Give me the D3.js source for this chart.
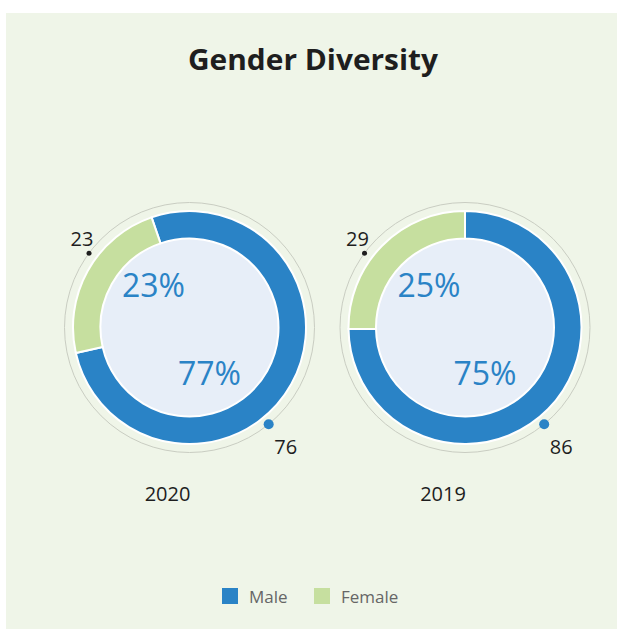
<!DOCTYPE html>
<html>
<head>
<meta charset="utf-8">
<script src="https://cdn.jsdelivr.net/npm/d3@7"></script>
<style>
  body { margin: 0; background: #fff; }
  svg { display: block; font-family: "Open Sans", "Noto Sans", sans-serif; }
</style>
</head>
<body>
<div id="chart-area"></div>
<script>
// DATA
const years = ["2020", "2019"]
const genders = ["Male", "Female"]
const maleCounts = [76, 86]
const femaleCounts = [23, 29]
const startAngles = [-19, 0] // degrees, where the male arc begins

const width = 617
const height = 637

const colors = d3.scaleOrdinal()
  .domain(genders)
  .range(["#2a83c6", "#c6df9f"])

const svg = d3.select("#chart-area")
  .append("svg")
    .attr("width", width)
    .attr("height", height)

// panel
svg.append("rect")
  .attr("x", 6)
  .attr("y", 13)
  .attr("width", width - 6)
  .attr("height", 616)
  .attr("fill", "#eff5e8")

// title
svg.append("text")
  .attr("x", 313)
  .attr("y", 70)
  .attr("text-anchor", "middle")
  .attr("font-size", "29px")
  .attr("font-weight", "bold")
  .attr("fill", "#1e1e1e")
  .attr("textLength", 250)
  .attr("lengthAdjust", "spacingAndGlyphs")
  .text("Gender Diversity")

// donut centres
const xScale = d3.scalePoint()
  .domain(years)
  .range([189.5, 465])
const cy = 327.5

const outerR = 116.5
const innerR = 89
const ringR = 125

const pie = d3.pie().sort(null).value(d => d.value)
const arc = d3.arc().innerRadius(innerR).outerRadius(outerR)

const rad = deg => deg * Math.PI / 180
const onRing = deg => [ringR * Math.sin(rad(deg)), -ringR * Math.cos(rad(deg))]

years.forEach((year, i) => {
  const values = [
    { key: "Male", value: maleCounts[i] },
    { key: "Female", value: femaleCounts[i] }
  ]
  const total = d3.sum(values, d => d.value)

  const g = svg.append("g")
    .attr("transform", "translate(" + xScale(year) + ", " + cy + ")")

  // thin outer ring
  g.append("circle")
    .attr("r", ringR)
    .attr("fill", "none")
    .attr("stroke", "#c9cdc2")
    .attr("stroke-width", 1)

  // inner disc
  g.append("circle")
    .attr("r", innerR)
    .attr("fill", "#e7eef8")

  pie.startAngle(rad(startAngles[i])).endAngle(rad(startAngles[i] + 360))

  g.selectAll("path.slice")
    .data(pie(values))
    .enter()
    .append("path")
      .attr("class", "slice")
      .attr("d", arc)
      .attr("fill", d => colors(d.data.key))
      .attr("stroke", "#fff")
      .attr("stroke-width", 2)

  // percentages
  const pct = d => Math.round(d.value / total * 100) + "%"
  g.append("text")
    .attr("x", -36)
    .attr("y", -31)
    .attr("text-anchor", "middle")
    .attr("font-size", "32px")
    .attr("fill", "#2a83c6")
    .text(pct(values[1]))
  g.append("text")
    .attr("x", 20)
    .attr("y", 57)
    .attr("text-anchor", "middle")
    .attr("font-size", "32px")
    .attr("fill", "#2a83c6")
    .text(pct(values[0]))

  // value markers on the ring
  const femalePos = onRing(306.5)
  g.append("circle")
    .attr("cx", femalePos[0])
    .attr("cy", femalePos[1])
    .attr("r", 2.5)
    .attr("fill", "#1e1e1e")
  g.append("text")
    .attr("x", femalePos[0] - 7)
    .attr("y", femalePos[1] - 7)
    .attr("text-anchor", "middle")
    .attr("font-size", "20px")
    .attr("fill", "#1e1e1e")
    .text(values[1].value)

  const malePos = onRing(140.7)
  g.append("circle")
    .attr("cx", malePos[0])
    .attr("cy", malePos[1])
    .attr("r", 5)
    .attr("fill", "#2a83c6")
  g.append("text")
    .attr("x", malePos[0] + 17)
    .attr("y", malePos[1] + 30)
    .attr("text-anchor", "middle")
    .attr("font-size", "20px")
    .attr("fill", "#1e1e1e")
    .text(values[0].value)

  // year label
  g.append("text")
    .attr("x", -22)
    .attr("y", 501 - cy)
    .attr("text-anchor", "middle")
    .attr("font-size", "20px")
    .attr("fill", "#1e1e1e")
    .text(year)
})

// LEGEND
const legendX = d3.scaleOrdinal()
  .domain(genders)
  .range([222, 314])

const legend = svg.selectAll("g.legend")
  .data(genders)
  .enter()
  .append("g")
    .attr("class", "legend")
    .attr("transform", d => "translate(" + legendX(d) + ", 588)")

legend.append("rect")
  .attr("width", 16)
  .attr("height", 16)
  .attr("fill", d => colors(d))

legend.append("text")
  .attr("x", 27)
  .attr("y", 15)
  .attr("font-size", "17px")
  .attr("fill", "#666")
  .text(d => d)
</script>
</body>
</html>
